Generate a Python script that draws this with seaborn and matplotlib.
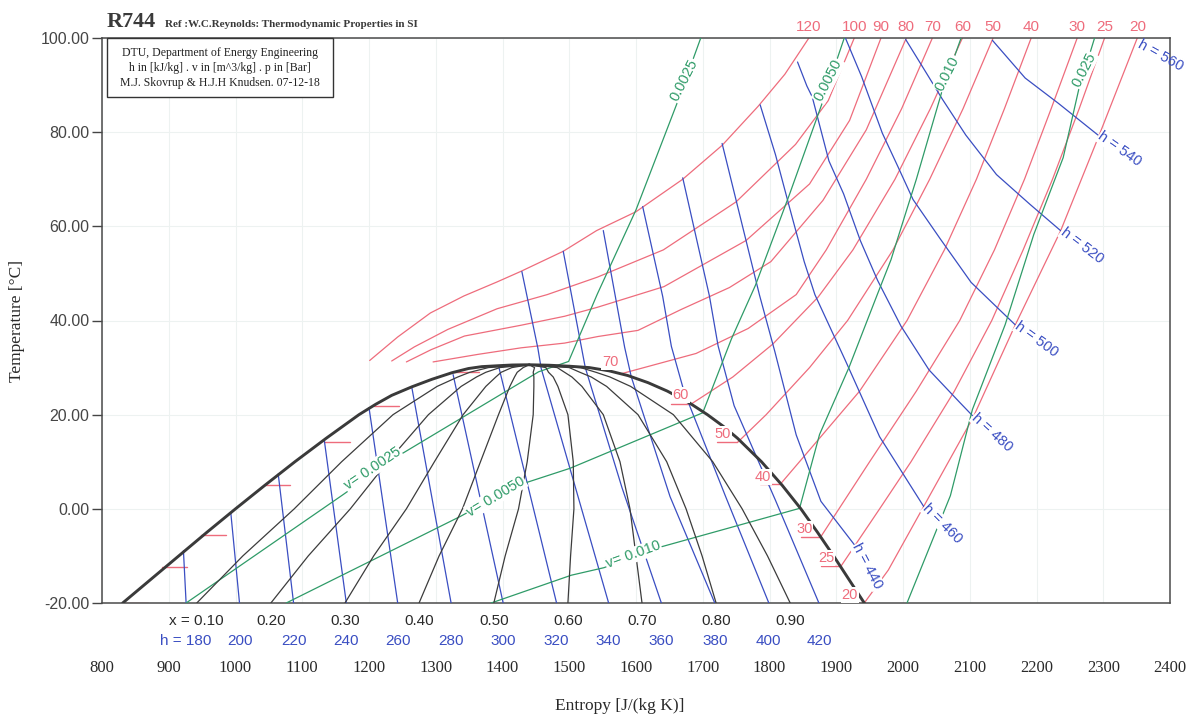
import matplotlib
matplotlib.use("Agg")
import matplotlib.pyplot as plt
import matplotlib.transforms as mtransforms
from matplotlib.patches import Rectangle
import seaborn as sns

# ---------------- saturation dome (s in J/(kg K), T in degC) ----------------
SAT_LIQ_S = [831, 873, 915, 957, 1000, 1044, 1089, 1136, 1185, 1210, 1234, 1264, 1294,
             1324, 1349, 1369, 1394, 1415, 1440]
SAT_LIQ_T = [-20, -15, -10, -5, 0, 5, 10, 15, 20, 22.2, 24.1, 25.9, 27.5,
             28.9, 29.8, 30.2, 30.4, 30.55, 30.6]
SAT_VAP_S = [1440, 1470, 1499, 1530, 1560, 1588, 1618, 1647, 1680, 1707, 1731, 1752, 1788,
             1819, 1847, 1872, 1896, 1919, 1942]
SAT_VAP_T = [30.6, 30.5, 30.3, 30.0, 29.3, 28.3, 26.8, 25.0, 22.5, 20.0, 17.5, 15.0, 10.0,
             5.0, 0.0, -5.0, -10.0, -15.0, -20]

# ---------------- quality lines ----------------
Q_T = [-20, -10, 0, 10, 20, 26, 28, 29, 30, 30.6]
Q10_S = [942, 1011, 1088, 1159, 1236, 1302, 1333, 1351, 1379, 1440]
Q20_S = [1053, 1109, 1172, 1228, 1289, 1338, 1361, 1375, 1396, 1440]
Q30_S = [1164, 1207, 1256, 1298, 1341, 1375, 1390, 1398, 1414, 1440]
Q40_S = [1275, 1305, 1340, 1367, 1394, 1411, 1418, 1422, 1431, 1440]
Q50_S = [1387, 1404, 1424, 1437, 1446, 1447, 1447, 1446, 1448, 1440]
Q60_S = [1498, 1502, 1507, 1506, 1498, 1483, 1476, 1469, 1465, 1440]
Q70_S = [1609, 1600, 1591, 1576, 1551, 1519, 1504, 1493, 1482, 1440]
Q80_S = [1720, 1699, 1675, 1646, 1603, 1556, 1533, 1516, 1500, 1440]
Q90_S = [1831, 1797, 1759, 1715, 1656, 1592, 1561, 1540, 1517, 1440]
Q_LABELS = ["x = 0.10", "0.20", "0.30", "0.40", "0.50", "0.60", "0.70", "0.80", "0.90"]

# ---------------- isobars (bar) ----------------
P120_S = [1201, 1243, 1292, 1342, 1392, 1427, 1491, 1541, 1600, 1670, 1729, 1783, 1823, 1859]
P120_T = [31.5, 36.5, 41.6, 45.2, 48.2, 50.4, 54.7, 59.1, 63.1, 70.0, 77.2, 85.5, 92.3, 100]
P100_S = [1234, 1268, 1318, 1392, 1467, 1542, 1641, 1750, 1839, 1888, 1927]
P100_T = [31.4, 34.4, 38.1, 42.5, 45.5, 49.2, 55.0, 65.2, 77.4, 86.7, 100]
P90_S = [1256, 1293, 1343, 1428, 1493, 1542, 1642, 1765, 1860, 1920, 1967]
P90_T = [31.2, 33.8, 36.7, 39.0, 40.9, 42.8, 47.2, 57.0, 69.0, 82.5, 100]
P80_S = [1296, 1363, 1428, 1493, 1543, 1603, 1667, 1740, 1802, 1880, 1945, 2005]
P80_T = [31.2, 32.8, 34.2, 35.2, 36.6, 37.9, 42.3, 47.0, 52.5, 65.5, 80.5, 100]
P70_S = [1578, 1612, 1690, 1768, 1840, 1885, 1945, 1998, 2044]
P70_T = [28.7, 30, 33, 38.3, 45.5, 55, 70, 85, 100]
P60_S = [1682, 1745, 1805, 1873, 1925, 1988, 2041, 2089]
P60_T = [22.2, 28, 35, 45, 55, 70, 85, 100]
P50_S = [1752, 1795, 1860, 1917, 1985, 2040, 2090, 2135]
P50_T = [14.1, 20, 30, 40, 55, 70, 85, 100]
P40_S = [1816, 1875, 1935, 2006, 2062, 2110, 2152, 2192]
P40_T = [5.2, 15, 25, 40, 55, 70, 85, 100]
P30_S = [1877, 1950, 2020, 2085, 2137, 2182, 2222, 2261]
P30_T = [-5.9, 10, 25, 40, 55, 70, 85, 100]
P25_S = [1907, 1965, 2012, 2077, 2133, 2180, 2224, 2264, 2302]
P25_T = [-12.2, 0, 10, 25, 40, 55, 70, 85, 100]
P20_S = [1942, 1978, 2029, 2105, 2168, 2236, 2294, 2351]
P20_T = [-20, -13, 0, 19.4, 39, 59, 79.4, 100]
P_TOP_LABELS = ["120", "100", "90", "80", "70", "60", "50", "40", "30", "25", "20"]

# saturation pressure markers in the dome
LIQ_TICK_S = [831, 890, 948, 1044, 1133, 1207, 1327]
LIQ_TICK_T = [-20, -12.3, -5.6, 5.1, 14.3, 21.9, 29.0]
VAP_TICK_S = [1682, 1752, 1816, 1877, 1907, 1942]
VAP_TICK_T = [22.2, 14.1, 5.2, -5.9, -12.2, -20]
VAP_LABELS = ["70", "60", "50", "40", "30", "25", "20"]
VAP_LABEL_S = [1561, 1667, 1730, 1790, 1852, 1885, 1920]
VAP_LABEL_T = [31.2, 24.2, 16.0, 6.8, -4.2, -10.5, -18.3]

# ---------------- isenthalps (kJ/kg) ----------------
H180_S = [922, 926];   H180_T = [-8.9, -20]
H200_S = [993, 1006];  H200_T = [-0.9, -20]
H220_S = [1064, 1087]; H220_T = [7.4, -20]
H240_S = [1133, 1166]; H240_T = [14.6, -20]
H260_S = [1200, 1243]; H260_T = [21.5, -20]
H280_S = [1264, 1323]; H280_T = [25.9, -20]
H300_S = [1326, 1401]; H300_T = [28.5, -20]
H320_S = [1394, 1481]; H320_T = [30.4, -20]
H340_S = [1429, 1453, 1458, 1501, 1559]; H340_T = [50.4, 34.1, 29.8, 8.6, -20]
H360_S = [1491, 1524, 1579, 1638]; H360_T = [54.7, 30.0, 4.5, -20]
H380_S = [1551, 1583, 1593, 1651, 1718]; H380_T = [59.1, 34.3, 28.0, 2.6, -20]
H400_S = [1610, 1640, 1653, 1672, 1734, 1799]; H400_T = [64.2, 45.1, 34.5, 24.9, 2.7, -20]
H420_S = [1670, 1710, 1723, 1747, 1809, 1874]; H420_T = [70.3, 45.2, 34.6, 21.9, 1.8, -20]
H440_S = [1729, 1785, 1808, 1840, 1877, 1927]; H440_T = [77.6, 45.4, 33.4, 15.7, 1.6, -7.6]
H460_S = [1786, 1809, 1830, 1852, 1868, 1914, 1965, 2031]
H460_T = [85.8, 75.2, 64.0, 52.5, 45.5, 31.4, 15.3, 0.5]
H480_S = [1842, 1856, 1864, 1889, 1911, 1936, 1962, 1997, 2039, 2085, 2104]
H480_T = [94.9, 89.8, 87.5, 73.9, 66.9, 57.0, 48.5, 38.8, 29.5, 22.6, 19.8]
H500_S = [1914, 1938, 1969, 1992, 2015, 2056, 2102, 2143, 2168]
H500_T = [99.9, 91.8, 79.8, 72.8, 65.7, 57.3, 48.1, 42.5, 39.1]
H520_S = [2004, 2037, 2059, 2094, 2140, 2190, 2236]
H520_T = [99.7, 92.1, 87.0, 79.4, 71.0, 64.7, 59.1]
H540_S = [2134, 2183, 2233, 2292]
H540_T = [99.5, 91.5, 86.1, 79.4]
H_BOTTOM_LABELS = ["h = 180", "200", "220", "240", "260", "280", "300", "320",
                   "340", "360", "380", "400", "420"]
H_SIDE_LABELS = ["h = 440", "h = 460", "h = 480", "h = 500", "h = 520", "h = 540"]
H560_LABEL = "h = 560"

# ---------------- isochores (m^3/kg) ----------------
V0025_S = [926, 1161, 1241, 1454, 1499, 1542, 1600, 1663, 1697]
V0025_T = [-20, 3.0, 11.0, 29.1, 31.3, 45.6, 63.5, 86.7, 100]
V0050_S = [1076, 1337, 1421, 1501, 1700, 1743, 1779, 1830, 1878, 1912]
V0050_T = [-20, -1.6, 4.9, 8.6, 20.4, 36.1, 47.5, 66.8, 85.8, 100]
V010_S = [1383, 1503, 1552, 1637, 1845, 1875, 1919, 1962, 1982, 2020, 2058, 2087]
V010_T = [-20, -14.1, -12.5, -8.1, 0.1, 15.8, 30.0, 45.7, 52.9, 70.0, 88.5, 100]
V025_S = [2006, 2071, 2104, 2153, 2196, 2240, 2263, 2287]
V025_T = [-20, 2.8, 21.1, 39.1, 58.3, 74.6, 88.9, 100]

S_TICKS = list(range(800, 2401, 100))
T_TICKS = [-20, 0, 20, 40, 60, 80, 100]

# ---------------- styling ----------------
RED = "#ee6c7c"
BLUE = "#3a4ec2"
GREEN = "#2f9b68"
QBLACK = "#3c3c3c"
SATC = "#3a3a3a"
SERIF = ["Liberation Serif", "DejaVu Serif"]
SANS = ["Liberation Sans", "DejaVu Sans"]

sns.set_theme(style="white")
plt.rcParams["font.family"] = SANS

fig = plt.figure(figsize=(11.94, 7.18), dpi=100)
ax = fig.add_axes([102 / 1194, 1 - 603 / 718, 1068 / 1194, 565 / 718])
ax.set_xlim(800, 2400)
ax.set_ylim(-20, 100)


def draw(s, t, color, lw, z):
    sns.lineplot(x=s, y=t, sort=False, estimator=None, color=color,
                 linewidth=lw, zorder=z, ax=ax)


# isobars
isobars = [(P120_S, P120_T), (P100_S, P100_T), (P90_S, P90_T), (P80_S, P80_T),
           (P70_S, P70_T), (P60_S, P60_T), (P50_S, P50_T), (P40_S, P40_T),
           (P30_S, P30_T), (P25_S, P25_T), (P20_S, P20_T)]
for s, t in isobars:
    draw(s, t, RED, 0.9, 2)
for s0, t0 in zip(LIQ_TICK_S, LIQ_TICK_T):
    draw([s0, s0 + 38], [t0, t0], RED, 1.0, 2)
for s0, t0 in zip(VAP_TICK_S, VAP_TICK_T):
    draw([s0 - 30, s0], [t0, t0], RED, 1.0, 2)

# isenthalps
isenthalps = [(H180_S, H180_T), (H200_S, H200_T), (H220_S, H220_T), (H240_S, H240_T),
              (H260_S, H260_T), (H280_S, H280_T), (H300_S, H300_T), (H320_S, H320_T),
              (H340_S, H340_T), (H360_S, H360_T), (H380_S, H380_T), (H400_S, H400_T),
              (H420_S, H420_T), (H440_S, H440_T), (H460_S, H460_T), (H480_S, H480_T),
              (H500_S, H500_T), (H520_S, H520_T), (H540_S, H540_T)]
for s, t in isenthalps:
    draw(s, t, BLUE, 0.9, 3)

# isochores
isochores = [(V0025_S, V0025_T), (V0050_S, V0050_T), (V010_S, V010_T), (V025_S, V025_T)]
for s, t in isochores:
    draw(s, t, GREEN, 0.9, 3)

# quality lines
qualities = [Q10_S, Q20_S, Q30_S, Q40_S, Q50_S, Q60_S, Q70_S, Q80_S, Q90_S]
for s in qualities:
    draw(s, Q_T, QBLACK, 0.9, 4)

# saturation dome
draw(SAT_LIQ_S, SAT_LIQ_T, SATC, 2.1, 5)
draw(SAT_VAP_S, SAT_VAP_T, SATC, 2.1, 5)

# ---------------- labels inside the plot ----------------
box = dict(facecolor="white", edgecolor="none", pad=0.6)

for lab, (s, t) in zip(P_TOP_LABELS, isobars):
    ax.text(s[-1], 102.4, lab, color=RED, fontsize=11, ha="center", va="center",
            clip_on=False)

for lab, s, t in zip(VAP_LABELS, VAP_LABEL_S, VAP_LABEL_T):
    ax.text(s, t, lab, color=RED, fontsize=10.5, ha="center", va="center",
            bbox=box, zorder=7)

side_rot = [-62, -45, -42, -36, -37, -35]
side_curves = [(H440_S, H440_T), (H460_S, H460_T), (H480_S, H480_T),
               (H500_S, H500_T), (H520_S, H520_T), (H540_S, H540_T)]
for lab, (s, t), rot in zip(H_SIDE_LABELS, side_curves, side_rot):
    ax.annotate(lab, xy=(s[-1], t[-1]), xytext=(1, 0), textcoords="offset points",
                color=BLUE, fontsize=10.5, rotation=rot, rotation_mode="anchor",
                ha="left", va="center", bbox=dict(facecolor="white", edgecolor="none", pad=0.3),
                zorder=7, annotation_clip=False)
ax.annotate(H560_LABEL, xy=(P20_S[-1], P20_T[-1]), xytext=(1, -4), textcoords="offset points",
            color=BLUE, fontsize=10.5, rotation=-29, rotation_mode="anchor",
            ha="left", va="center", annotation_clip=False, zorder=7)

# isochore labels
ax.text(1205, 8.6, "v= 0.0025", color=GREEN, fontsize=10.5, rotation=34,
        ha="center", va="center", rotation_mode="anchor", bbox=box, zorder=7)
ax.text(1390, 2.6, "v= 0.0050", color=GREEN, fontsize=10.5, rotation=31,
        ha="center", va="center", rotation_mode="anchor", bbox=box, zorder=7)
ax.text(1596, -9.8, "v= 0.010", color=GREEN, fontsize=10.5, rotation=20,
        ha="center", va="center", rotation_mode="anchor", bbox=box, zorder=7)
for lab, s, t in [("0.0025", 1672, 91.0), ("0.0050", 1888, 91.0),
                  ("0.010", 2066, 92.5), ("0.025", 2271, 93.2)]:
    ax.text(s, t, lab, color=GREEN, fontsize=10.5, rotation=63,
            ha="center", va="center", rotation_mode="anchor", bbox=box, zorder=7)

# ---------------- rows under the axis ----------------
trans = mtransforms.blended_transform_factory(ax.transData, ax.transAxes)
for lab, s in zip(Q_LABELS, qualities):
    ax.text(s[0], -0.032, lab, transform=trans, color="#2a2a2a", fontsize=11,
            ha="center", va="center", clip_on=False)
for lab, (s, t) in zip(H_BOTTOM_LABELS, isenthalps[:13]):
    ax.text(s[-1], -0.068, lab, transform=trans, color=BLUE, fontsize=11,
            ha="center", va="center", clip_on=False)

# ---------------- axes styling ----------------
ax.set_xticks(S_TICKS)
ax.set_xticklabels([str(v) for v in S_TICKS], fontfamily=SERIF, fontsize=12, color="#2a2a2a")
ax.tick_params(axis="x", length=0, pad=41)
ax.set_yticks(T_TICKS)
ax.set_yticklabels([f"{v:.2f}" for v in T_TICKS], fontfamily=SANS, fontsize=11.5, color="#454545")
ax.tick_params(axis="y", length=7, width=1, color="#444444", direction="out", pad=2, left=True)
ax.grid(True, color="#edf2f1", linewidth=0.8, zorder=0)
ax.set_axisbelow(True)
for sp in ax.spines.values():
    sp.set_color("#4a4a4a")
    sp.set_linewidth(1.1)
ax.set_xlabel("")
ax.set_ylabel("")

ax.text(0.485, -0.182, "Entropy [J/(kg K)]", transform=ax.transAxes, fontfamily=SERIF,
        fontsize=12.5, color="#2a2a2a", ha="center", va="center", clip_on=False)
ax.text(-0.080, 0.50, "Temperature [\u00b0C]", transform=ax.transAxes, fontfamily=SERIF,
        fontsize=12.5, color="#2a2a2a", ha="center", va="center", rotation=90, clip_on=False)

# info box
ax.add_patch(Rectangle((0.0047, 0.8956), 0.2116, 0.1044, transform=ax.transAxes,
                       facecolor="white", edgecolor="#333333", linewidth=1.0, zorder=8,
                       clip_on=False))
for txt, yy in [("DTU, Department of Energy Engineering", 0.974),
                ("h in [kJ/kg] . v in [m^3/kg] . p in [Bar]", 0.947),
                ("M.J. Skovrup & H.J.H Knudsen. 07-12-18", 0.921)]:
    ax.text(0.1105, yy, txt, transform=ax.transAxes, fontfamily=SERIF, fontsize=8.5,
            color="#222222", ha="center", va="center", zorder=9)

# title
fig.text(107 / 1194, 1 - 27 / 718, "R744", fontfamily=SERIF, fontsize=16,
         fontweight="bold", color="#3a3a3a", va="baseline", ha="left")
fig.text(165 / 1194, 1 - 27 / 718, "Ref :W.C.Reynolds: Thermodynamic Properties in SI",
         fontfamily=SERIF, fontsize=8, fontweight="bold", color="#3a3a3a",
         va="baseline", ha="left")

fig.savefig("out.png", dpi=100, facecolor="white")
